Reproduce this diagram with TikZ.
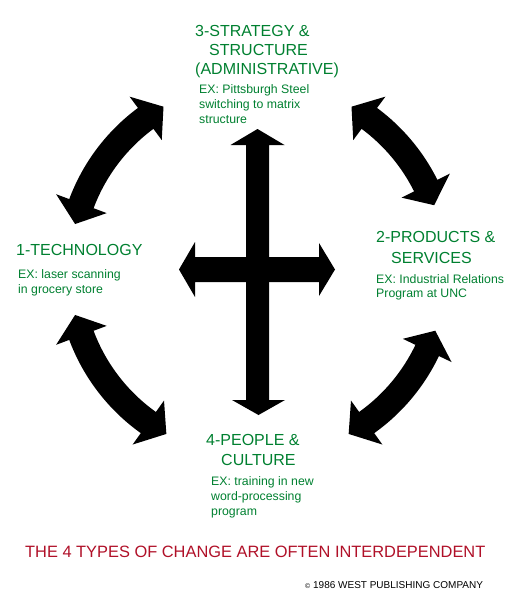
\documentclass[tikz,border=0pt]{standalone}
\usepackage{fontspec}
\setmainfont{Liberation Sans}
\usetikzlibrary{calc}
\definecolor{grn}{RGB}{0,128,48}
\definecolor{crim}{RGB}{176,16,40}
\tikzset{
  ttl/.style={anchor=base west, inner sep=0pt, text=grn, align=left,
    font=\fontsize{16pt}{#1}\selectfont},
  ttl/.default=20pt,
  exm/.style={anchor=base west, inner sep=0pt, text=grn, align=left,
    font=\fontsize{12.3pt}{#1}\selectfont},
  exm/.default=14.7pt,
  fat/.style={fill=black, draw=none}
}
% curved double arrow around center C: #1 start angle, #2 end angle
\newcommand\cvarrow[2]{%
  \fill[fat]
    ($(C)+(#1:188)$) -- ($(C)+(#1+6.5:215)$) -- ($(C)+(#1+6.5:201)$)
    arc[start angle=#1+6.5, end angle=#2-6.5, radius=201]
    -- ($(C)+(#2-6.5:215)$) -- ($(C)+(#2:188)$) -- ($(C)+(#2-6.5:161)$)
    -- ($(C)+(#2-6.5:175)$)
    arc[start angle=#2-6.5, end angle=#1+6.5, radius=175]
    -- ($(C)+(#1+6.5:161)$) -- cycle;}
\begin{document}
\begin{tikzpicture}[x=1pt,y=-1pt]
\useasboundingbox (0,0) rectangle (526,615);
\coordinate (C) at (257.5,269.5);
% straight cross arrows
\fill[fat] (257.5,129) -- (284.5,145) -- (269,145) -- (269,400) -- (285,400)
  -- (258.5,415) -- (232,400) -- (246,400) -- (246,145) -- (230.5,145) -- cycle;
\fill[fat] (179,269.5) -- (195,242) -- (195,257) -- (319,257) -- (319,243)
  -- (335,269.5) -- (319,296) -- (319,282) -- (195,282) -- (195,297) -- cycle;
% curved arrows
\cvarrow{-166}{-120}
\cvarrow{-60}{-20}
\cvarrow{119}{166}
\cvarrow{19}{61}
% texts (anchored at the baseline of the last line)
\node[ttl=19.2pt] (t3) at (195,75) {3-STRATEGY \&\\\hspace*{14pt}STRUCTURE\\(ADMINISTRATIVE)};
\node[exm=14.5pt] (e3) at (199,123) {EX: Pittsburgh Steel\\switching to matrix\\structure};
\node[ttl] (t1) at (16,255) {1-TECHNOLOGY};
\node[exm=15pt] (e1) at (18,293.3) {EX: laser scanning\\in grocery store};
\node[ttl=20.6pt] (t2) at (376,263.3) {2-PRODUCTS \&\\\hspace*{15pt}SERVICES};
\node[exm=14pt] (e2) at (376,297.3) {EX: Industrial Relations\\Program at UNC};
\node[ttl=20pt] (t4) at (206,465) {4-PEOPLE \&\\\hspace*{15pt}CULTURE};
\node[exm=15pt] (e4) at (211,515) {EX: training in new\\word-processing\\program};
\node[anchor=base west, inner sep=0pt, text=crim, font=\fontsize{16.4pt}{19pt}\selectfont]
  (foot) at (25,557.3) {THE 4 TYPES OF CHANGE ARE OFTEN INTERDEPENDENT};
\node[anchor=base west, inner sep=0pt, font=\fontsize{10pt}{12pt}\selectfont]
  (copy) at (305,588.3) {{\fontsize{7pt}{8pt}\selectfont ©} 1986 WEST PUBLISHING COMPANY};
\end{tikzpicture}
\end{document}
